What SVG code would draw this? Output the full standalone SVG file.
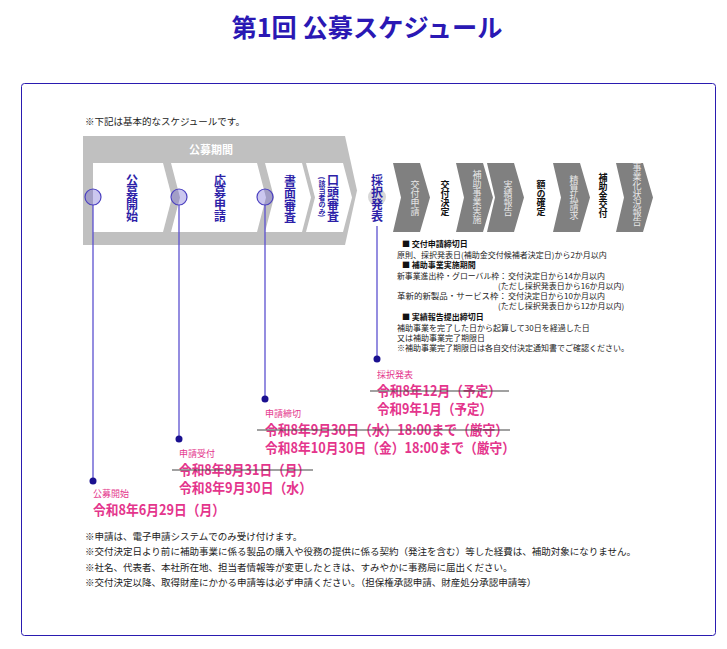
<svg xmlns="http://www.w3.org/2000/svg" width="727" height="649" viewBox="0 0 727 649">
<style>
text{font-family:"Noto Sans CJK JP","Noto Sans",sans-serif}
.title{font-size:25px;font-weight:bold;fill:#2a18b4}
.note{font-size:9.5px;fill:#222}
.sm{font-size:8px;fill:#222}
.smb{font-size:8px;fill:#111;font-weight:bold}
.vt{writing-mode:vertical-rl;text-anchor:middle;dominant-baseline:central}
.blue{font-size:12px;font-weight:bold;fill:#2d1fa8}
.gtx{font-size:9px;fill:#e8e8e8}
.btx{font-size:9px;font-weight:bold;fill:#111}
.plbl{font-size:9px;fill:#e4358c}
.date{font-size:14px;font-weight:bold;fill:#e4358c}
.strike{stroke:#444;stroke-width:1.1}
.vline{stroke:#5b50d0;stroke-width:1.3;fill:none}
.dot{fill:#1a1090}
.circ{fill:#6a5fd0;fill-opacity:0.35;stroke:#4b40c0;stroke-width:1.2}
.wbox{fill:#fff}
.dchev{fill:#808080}
</style>
<rect x="0" y="0" width="727" height="649" fill="#fff"/>
<text class="title" x="367" y="37" text-anchor="middle" textLength="271" lengthAdjust="spacingAndGlyphs">第1回 公募スケジュール</text>
<rect x="21.5" y="83.5" width="694" height="552" rx="3" fill="none" stroke="#2a1bb0" stroke-width="1"/>
<text class="note" x="85" y="124.5">※下記は基本的なスケジュールです。</text>

<g id="period">
<polygon points="83,136 345,136 357,190.5 345,245 83,245" fill="#c0c0c0"/>
<text x="211" y="154" text-anchor="middle" font-size="11" font-weight="bold" fill="#fff">公募期間</text>
</g>
<g id="kobo-kaishi">
<path class="wbox" d="M93,163 H163 L172,197.5 L163,232 H93 Z"/>
<text class="vt blue" x="132" y="198">公募開始</text>
</g>
<g id="obo-shinsei">
<path class="wbox" d="M171,163 H257 L266,197.5 L257,232 H171 L180,197.5 Z"/>
<text class="vt blue" x="220" y="198">応募申請</text>
</g>
<g id="shomen-shinsa">
<path class="wbox" d="M265,163 H302 L311,197.5 L302,232 H265 L274,197.5 Z"/>
<text class="vt blue" x="290" y="199">書面審査</text>
</g>
<g id="koto-shinsa">
<path class="wbox" d="M306,163 H343 L352,197.5 L343,232 H306 L315,197.5 Z"/>
<text class="vt blue" x="333" y="198">口頭審査</text>
<text class="vt" x="322" y="197" font-size="7" font-weight="bold" fill="#2d1fa8">(該当者のみ)</text>
</g>
<g id="saitaku">
<circle cx="377" cy="197" r="9" fill="#d8d8d8"/>
<text class="vt blue" x="377" y="198">採択発表</text>
</g>

<g id="kofu-shinsei">
<path class="dchev" d="M393,163 H420 L430,197.5 L420,232 H393 L401,197.5 Z"/>
<text class="vt gtx" x="415" y="198">交付申請</text>
</g>
<g id="kofu-kettei"><text class="vt btx" x="445" y="198">交付決定</text></g>
<g id="jigyo-jisshi">
<path class="dchev" d="M456,163 H483 L493,197.5 L483,232 H456 L464,197.5 Z"/>
<text class="vt gtx" x="477" y="197">補助事業実施</text>
</g>
<g id="jisseki">
<path class="dchev" d="M487,163 H514 L524,197.5 L514,232 H487 L495,197.5 Z"/>
<text class="vt gtx" x="508" y="198">実績報告</text>
</g>
<g id="gaku-kakutei"><text class="vt btx" x="541" y="198">額の確定</text></g>
<g id="seisan">
<path class="dchev" d="M553,163 H580 L590,197.5 L580,232 H553 L561,197.5 Z"/>
<text class="vt gtx" x="574" y="198">精算払請求</text>
</g>
<g id="hojokin-kofu"><text class="vt btx" x="603" y="196">補助金交付</text></g>
<g id="jigyoka">
<path class="dchev" d="M616,163 H643 L653,197.5 L643,232 H616 L624,197.5 Z"/>
<text class="vt gtx" x="637" y="195" font-size="8.6">事業化状況報告</text>
</g>

<g id="details">
<text class="smb" x="402" y="247">■ 交付申請締切日</text>
<text class="sm" x="397" y="257.5">原則、採択発表日(補助金交付候補者決定日)から2か月以内</text>
<text class="smb" x="402" y="268">■ 補助事業実施期間</text>
<text class="sm" x="397" y="278.5" textLength="110" lengthAdjust="spacingAndGlyphs">新事業進出枠・グローバル枠：</text>
<text class="sm" x="508" y="278.5">交付決定日から14か月以内</text>
<text class="sm" x="498" y="288.5">(ただし採択発表日から16か月以内)</text>
<text class="sm" x="397" y="299" textLength="110" lengthAdjust="spacingAndGlyphs">革新的新製品・サービス枠：</text>
<text class="sm" x="508" y="299">交付決定日から10か月以内</text>
<text class="sm" x="498" y="309">(ただし採択発表日から12か月以内)</text>
<text class="smb" x="402" y="320">■ 実績報告提出締切日</text>
<text class="sm" x="397" y="331">補助事業を完了した日から起算して30日を経過した日</text>
<text class="sm" x="397" y="341">又は補助事業完了期限日</text>
<text class="sm" x="397" y="351">※補助事業完了期限日は各自交付決定通知書でご確認ください。</text>
</g>

<g id="connectors">
<line class="vline" x1="93" y1="205" x2="93" y2="481"/>
<line class="vline" x1="179" y1="205" x2="179" y2="439"/>
<line class="vline" x1="265" y1="205" x2="265" y2="399"/>
<line class="vline" x1="377" y1="226" x2="377" y2="359"/>
<circle class="circ" cx="93" cy="197" r="8"/>
<circle class="circ" cx="179" cy="197" r="8"/>
<circle class="circ" cx="265" cy="197" r="8"/>
<circle class="dot" cx="93" cy="481" r="3.5"/>
<circle class="dot" cx="179" cy="439" r="3.5"/>
<circle class="dot" cx="265" cy="399" r="3.5"/>
<circle class="dot" cx="377" cy="359" r="3.5"/>
</g>

<g id="date-kobo">
<text class="plbl" x="93" y="496.5">公募開始</text>
<text class="date" x="93" y="515" textLength="132" lengthAdjust="spacingAndGlyphs">令和8年6月29日（月）</text>
</g>
<g id="date-uketsuke">
<text class="plbl" x="179" y="456.5">申請受付</text>
<text class="date" x="179" y="475" textLength="131" lengthAdjust="spacingAndGlyphs">令和8年8月31日（月）</text>
<line class="strike" x1="172" y1="470" x2="313" y2="470"/>
<text class="date" x="179" y="493" textLength="133" lengthAdjust="spacingAndGlyphs">令和8年9月30日（水）</text>
</g>
<g id="date-shimekiri">
<text class="plbl" x="265" y="416.5">申請締切</text>
<text class="date" x="265" y="435" textLength="243" lengthAdjust="spacingAndGlyphs">令和8年9月30日（水）18:00まで（厳守）</text>
<line class="strike" x1="257" y1="430" x2="510" y2="430"/>
<text class="date" x="265" y="453" textLength="250" lengthAdjust="spacingAndGlyphs">令和8年10月30日（金）18:00まで（厳守）</text>
</g>
<g id="date-saitaku">
<text class="plbl" x="377" y="377.5">採択発表</text>
<text class="date" x="377" y="396" textLength="124" lengthAdjust="spacingAndGlyphs">令和8年12月（予定）</text>
<line class="strike" x1="370" y1="391" x2="509" y2="391"/>
<text class="date" x="377" y="414" textLength="115" lengthAdjust="spacingAndGlyphs">令和9年1月（予定）</text>
</g>

<g id="footnotes">
<text class="note" x="85" y="539.5">※申請は、電子申請システムでのみ受け付けます。</text>
<text class="note" x="85" y="555" textLength="551" lengthAdjust="spacingAndGlyphs">※交付決定日より前に補助事業に係る製品の購入や役務の提供に係る契約（発注を含む）等した経費は、補助対象になりません。</text>
<text class="note" x="85" y="570.5">※社名、代表者、本社所在地、担当者情報等が変更したときは、すみやかに事務局に届出ください。</text>
<text class="note" x="85" y="586">※交付決定以降、取得財産にかかる申請等は必ず申請ください。（担保権承認申請、財産処分承認申請等）</text>
</g>
</svg>
